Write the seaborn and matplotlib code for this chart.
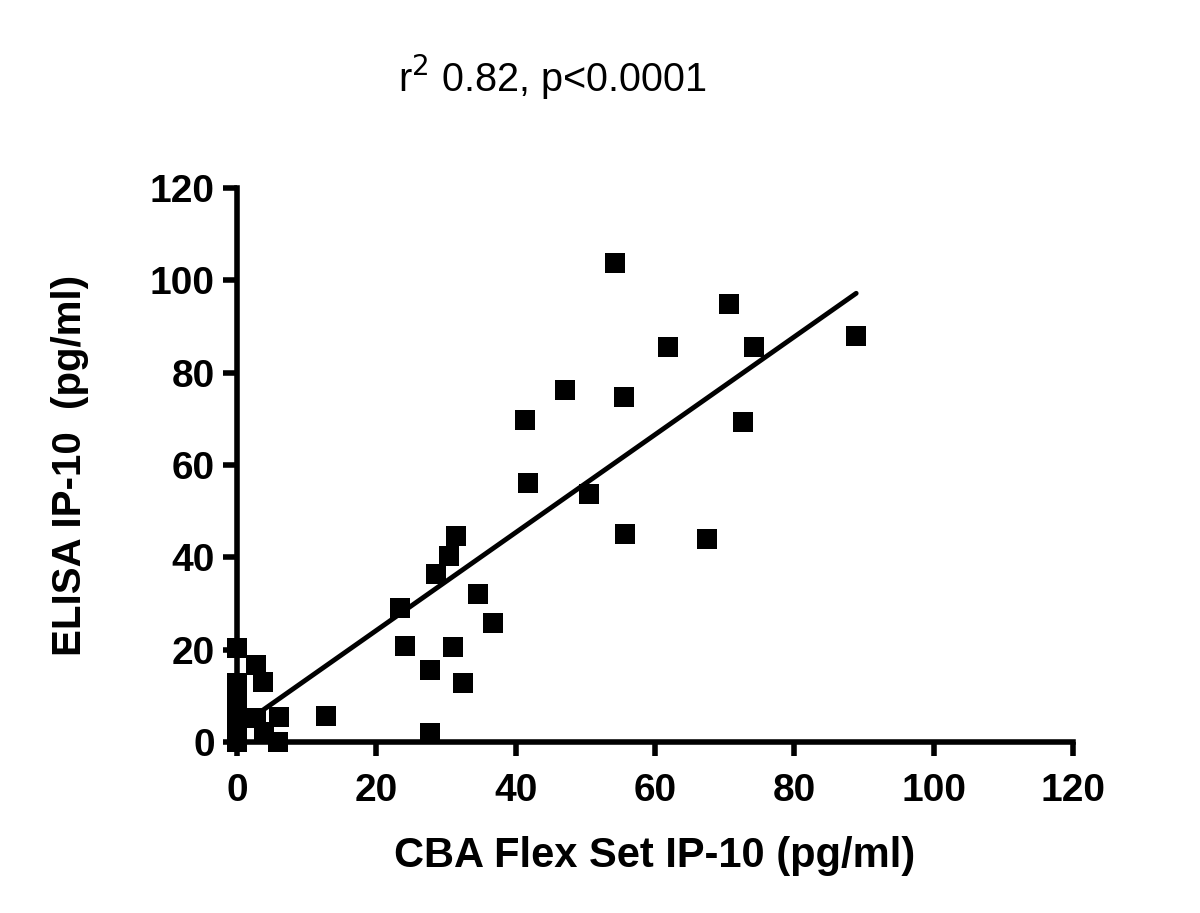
import matplotlib
matplotlib.use("Agg")
import matplotlib.pyplot as plt
import seaborn as sns
import pandas as pd

# CBA Flex Set vs ELISA IP-10 values (pg/ml)
cba = [54.3, 70.6, 88.9, 61.9, 74.3, 47.1, 55.5, 41.3, 72.7, 41.8,
       50.6, 55.7, 67.5, 31.5, 30.4, 28.6, 34.6, 23.4, 36.7, 24.1,
       31.0, 27.7, 32.5, 27.7, 12.8,
       0.0, 2.7, 3.8, 0.0, 0.0, 0.0, 0.0, 0.0, 0.0, 2.7, 6.1, 3.9, 5.9,
       0.0, 0.0, 0.0]
elisa = [103.8, 94.9, 87.9, 85.5, 85.5, 76.3, 74.8, 69.8, 69.4, 56.1,
         53.8, 45.0, 44.0, 44.6, 40.3, 36.3, 32.1, 29.1, 25.7, 20.8,
         20.5, 15.5, 12.7, 1.9, 5.7,
         20.3, 16.7, 13.1, 12.7, 9.5, 7.0, 4.0, 1.5, 0.0, 5.1, 5.5, 2.2, 0.1,
         0.8, 2.8, 5.5]
x_ticks = [0, 20, 40, 60, 80, 100, 120]
y_ticks = [0, 20, 40, 60, 80, 100, 120]

df = pd.DataFrame({"cba": cba, "elisa": elisa})

sns.set_style("ticks", {"axes.edgecolor": "black", "text.color": "black",
                        "axes.labelcolor": "black", "xtick.color": "black",
                        "ytick.color": "black"})
plt.rcParams["font.family"] = ["Liberation Sans", "DejaVu Sans"]

fig = plt.figure(figsize=(12, 9.13), dpi=100)
ax = fig.add_axes([0.1975, 0.1873, 0.6965, 0.6067])

sns.regplot(data=df, x="cba", y="elisa", ax=ax, ci=None,
            marker="s", color="black",
            scatter_kws={"s": 190, "linewidths": 0, "alpha": 1,
                         "clip_on": False, "zorder": 3},
            line_kws={"linewidth": 3.5, "color": "black",
                      "solid_capstyle": "round"})

ax.set_xlim(0, 120)
ax.set_ylim(0, 120)
ax.set_xticks(x_ticks)
ax.set_yticks(y_ticks)
sns.despine(ax=ax)
for s in ["left", "bottom"]:
    ax.spines[s].set_linewidth(4)
ax.tick_params(width=4, length=10, labelsize=28, colors="black")
ax.tick_params(axis="x", pad=12)
ax.tick_params(axis="y", pad=6)
for lab in ax.get_xticklabels() + ax.get_yticklabels():
    lab.set_fontweight("bold")

ax.set_xlabel("CBA Flex Set IP-10 (pg/ml)", fontsize=30, fontweight="bold", labelpad=20)
ax.set_ylabel("ELISA IP-10  (pg/ml)", fontsize=29, fontweight="bold", labelpad=44)
fig.text(0.46, 0.915, r"r$^2$ 0.82, p<0.0001", fontsize=28.5, ha="center", va="center")

plt.savefig("out.png", dpi=100)
